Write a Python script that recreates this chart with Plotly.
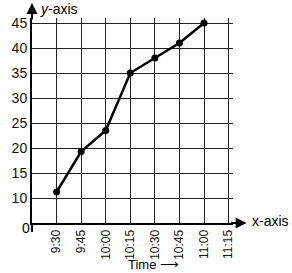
import plotly.graph_objects as go

# Data
times = ["9:30", "9:45", "10:00", "10:15", "10:30", "10:45", "11:00", "11:15"]
x_pos = [1, 2, 3, 4, 5, 6, 7, 8]
values = [11.2, 19.3, 23.5, 35, 38, 41, 45]
y_ticks = [10, 15, 20, 25, 30, 35, 40, 45]

W, H = 292, 273
L, R, T, B = 26, 59, 18, 50
PW, PH = W - L - R, H - T - B

def px(xp):
    return (xp - L) / PW

def py(yp):
    return (H - B - yp) / PH

FONT = "Liberation Sans, Arial, sans-serif"

fig = go.Figure()
fig.add_trace(go.Scatter(
    x=x_pos[:len(values)], y=values, mode="lines+markers",
    line=dict(color="black", width=2.5),
    marker=dict(color="black", size=7),
    cliponaxis=False, showlegend=False,
))

fig.update_layout(
    width=W, height=H,
    margin=dict(l=L, r=R, t=T, b=B),
    paper_bgcolor="white", plot_bgcolor="white",
    font=dict(family=FONT, color="black"),
    xaxis=dict(
        range=[0, 8.18], tickmode="array", tickvals=x_pos, ticktext=times,
        tickangle=-90, tickfont=dict(size=12, color="#111"),
        showgrid=True, gridcolor="#222", gridwidth=1.3,
        showline=True, linecolor="black", linewidth=2,
        zeroline=False, ticks="", fixedrange=True,
    ),
    yaxis=dict(
        range=[5, 46], tickmode="array", tickvals=y_ticks,
        tickfont=dict(size=14, color="#111"),
        showgrid=True, gridcolor="#222", gridwidth=1.3,
        showline=True, linecolor="black", linewidth=2,
        zeroline=False, ticks="", fixedrange=True,
    ),
    annotations=[
        # x-axis arrow
        dict(xref="paper", yref="paper", x=px(247), y=0, ax=-(247 - 230), ay=0,
             text="", showarrow=True, arrowhead=2, arrowsize=1.1, arrowwidth=2,
             arrowcolor="black"),
        # y-axis arrow
        dict(xref="paper", yref="paper", x=0, y=py(3), ax=0, ay=(21 - 3),
             text="", showarrow=True, arrowhead=2, arrowsize=1.1, arrowwidth=2,
             arrowcolor="black"),
        dict(xref="paper", yref="paper", x=px(250), y=py(221), text="x-axis",
             showarrow=False, xanchor="left", yanchor="middle",
             font=dict(size=14)),
        dict(xref="paper", yref="paper", x=px(32), y=py(9), text="<i>y</i>-axis",
             showarrow=False, xanchor="left", yanchor="middle",
             font=dict(size=14)),
        dict(xref="paper", yref="paper", x=px(20), y=py(228), text="0",
             showarrow=False, xanchor="center", yanchor="middle",
             font=dict(size=14)),
        dict(xref="paper", yref="paper", x=px(123), y=py(264), text="Time \u27f6",
             showarrow=False, xanchor="left", yanchor="middle",
             font=dict(size=13)),
    ],
    shapes=[
        dict(type="line", xref="paper", yref="paper", x0=0, x1=0, y0=0, y1=py(232),
             line=dict(color="black", width=2)),
    ],
)

fig.write_html("out.html")
